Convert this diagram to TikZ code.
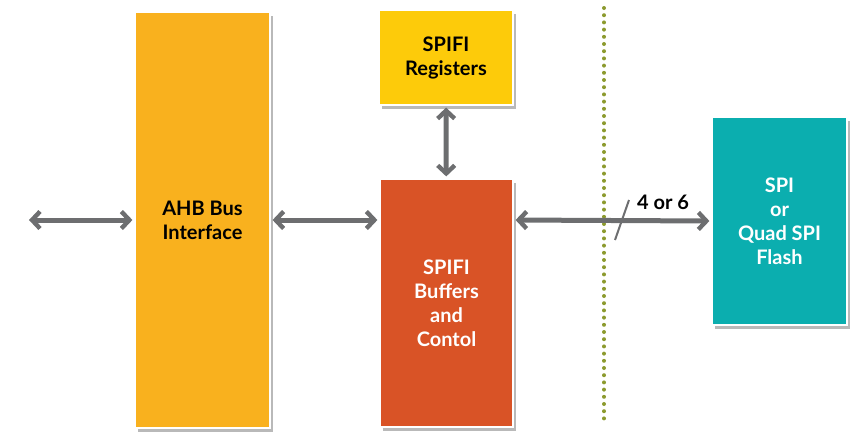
\documentclass[tikz,border=0pt]{standalone}
\usepackage{xcolor,fontspec,tikz}
\usetikzlibrary{arrows.meta,shadows}
\setmainfont{Lato}
\definecolor{ahbOrange}{RGB}{249, 177, 30}
\definecolor{regYellow}{RGB}{253, 203, 10}
\definecolor{bufRed}{RGB}{217, 83, 38}
\definecolor{flashTeal}{RGB}{11, 174, 175}
\definecolor{arrowGray}{RGB}{109, 110, 112}
\definecolor{dotGreen}{RGB}{140, 154, 46}

\tikzset{
	block/.style={draw=white, line width=0.6pt, align=center, font=\bfseries\fontsize{10}{12}\selectfont,
		drop shadow={shadow xshift=1.5pt, shadow yshift=-2pt, opacity=0.5, fill=black!55}},
	bus/.style={<->, arrowGray, line width=2.5pt, shorten <=1pt, shorten >=1pt,
		>={Straight Barb[length=4pt, width=8.5pt, line width=2.2pt]}}
}

\begin{document}
\begin{tikzpicture}[x=0.5pt, y=-0.5pt]
			\useasboundingbox (0,0) rectangle (859,436);
			\draw (202.5,220) node[block, fill=ahbOrange, minimum width=67.5pt, minimum height=208pt] (AHB) {AHB Bus\\Interface};
			\draw (446,57.5) node[block, fill=regYellow, minimum width=67pt, minimum height=47.5pt] (REG) {SPIFI\\Registers};
			\draw (446.5,303) node[block, fill=bufRed, text=white, minimum width=66.5pt, minimum height=124pt] (BUF) {SPIFI\\Buffers\\and\\Contol};
			\draw (779.5,221) node[block, fill=flashTeal, text=white, minimum width=67.5pt, minimum height=104pt] (FLASH) {SPI\\or\\Quad SPI\\Flash};
			\coordinate (host) at (27,220);

			% chip boundary
			\draw[dotGreen, line width=2pt, line cap=round, dash pattern=on 0pt off 3.6pt] (604,8) -- (604,422);

			\path[bus]
			(host) edge (AHB.west)
			(AHB.east) edge (BUF.west |- AHB.east)
			(REG) edge (BUF)
			(BUF.east |- AHB.east) edge (FLASH.west)
			;

			\draw[arrowGray, line width=1pt] (615,240) -- (629,200);
			\node[font=\bfseries\fontsize{10}{12}\selectfont] (width) at (663,202) {4 or 6};
		\end{tikzpicture}
\end{document}
